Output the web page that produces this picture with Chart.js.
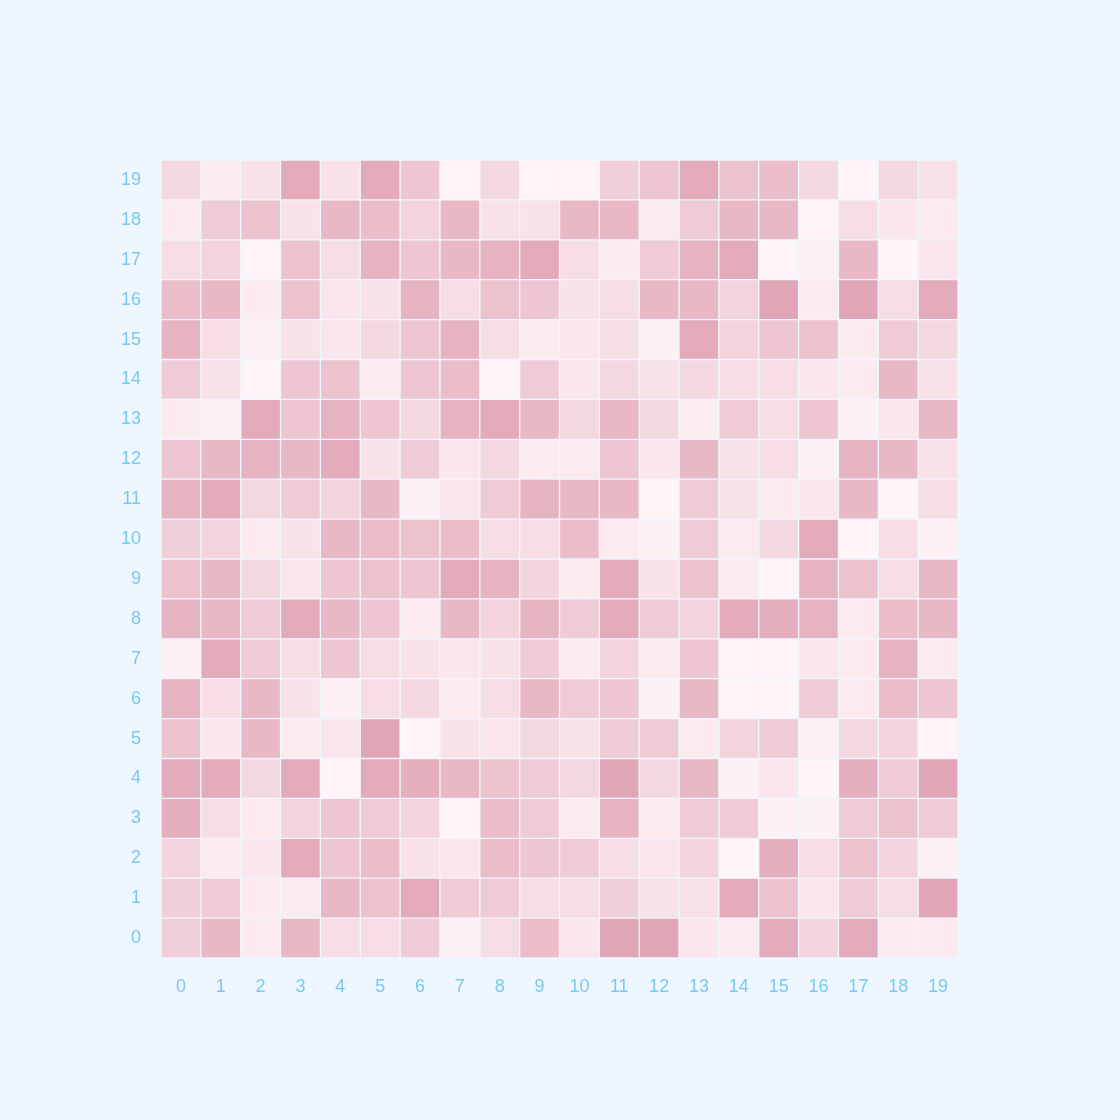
<!DOCTYPE html>
<html>
<head>
<meta charset="utf-8">
<script src="https://cdn.jsdelivr.net/npm/chart.js@4/dist/chart.umd.min.js"></script>
<style>
  html, body { margin: 0; padding: 0; background: #eef6ff; }
  #wrap { width: 1120px; height: 1120px; }
</style>
</head>
<body>
<div id="wrap"><canvas id="heat" width="1120" height="1120"></canvas></div>
<script>
// heatmap - 20x20 grid, one floating-bar dataset per row

const xLabels = ['0','1','2','3','4','5','6','7','8','9','10','11','12','13','14','15','16','17','18','19'];
const yLabels = ['0','1','2','3','4','5','6','7','8','9','10','11','12','13','14','15','16','17','18','19'];

// cell intensity, rows y=0 (bottom) .. y=19 (top)
const row0  = [4, 6.5, 1, 6.5, 2.5, 2.5, 4.5, 0.3, 2.5, 6, 1.5, 8.5, 8.5, 1.5, 1, 8, 3.5, 8, 1, 1];
const row1  = [4, 4.5, 1, 1, 6.5, 5.5, 8, 4.5, 4.5, 2.5, 2.5, 4, 2, 2, 8, 5.5, 1.5, 4.5, 2.5, 8.5];
const row2  = [3.5, 1, 1.5, 8, 5, 6, 2, 1.5, 6, 5, 4.5, 2.5, 1.5, 3.5, 0, 7.5, 2.5, 5.5, 3.5, 0.3];
const row3  = [7.5, 2.5, 1, 3.5, 5, 4.5, 3.5, 0, 6, 4.5, 1, 7, 1, 4.5, 4.5, 0.3, 0.3, 4.5, 5.5, 4.5];
const row4  = [8, 8, 3, 8, 0, 8, 7.5, 6.5, 5.5, 4.5, 3, 8.5, 3, 6.5, 0.3, 1.5, 0, 7.5, 4.5, 8.5];
const row5  = [5.5, 1.5, 6.5, 1, 1.5, 8.5, 0, 2, 1.5, 3, 2, 4.5, 4.5, 1, 3.5, 4.5, 0.3, 3, 3.5, 0];
const row6  = [7, 2.5, 6.5, 2, 0.3, 2.5, 3, 1, 2.5, 6.5, 4.5, 5, 0.3, 6.5, 0, 0, 4.5, 1, 6, 5];
const row7  = [0.3, 8, 4.5, 2.5, 5, 2.5, 2, 1.5, 2, 4.5, 1, 3.5, 1, 5, 0, 0, 1.5, 1, 7, 1];
const row8  = [7, 6.5, 4.5, 8, 6.5, 5, 1, 6.5, 3.5, 7, 4.5, 8, 4.5, 3.5, 8, 7.5, 7, 1, 6, 6.5];
const row9  = [5.5, 6.5, 3, 1.5, 5, 5.5, 5, 8, 7, 3.5, 1, 8, 2, 5.5, 1, 0, 7, 5.5, 2.5, 6.5];
const row10 = [4, 3.5, 1, 2, 6.5, 6, 5.5, 6, 2.5, 2.5, 6, 1, 0.3, 4.5, 1, 3, 8, 0, 2.5, 0.3];
const row11 = [7, 8, 3, 4.5, 3.5, 6.5, 0.3, 1.5, 4.5, 7, 6.5, 6.5, 0, 4.5, 2, 1, 1.5, 6.5, 0, 2.5];
const row12 = [5, 6.5, 7, 6.5, 8, 2, 4.5, 1.5, 3, 1, 1, 5, 1.5, 6.5, 2, 2.5, 0.3, 7, 6.5, 2];
const row13 = [1, 0.3, 8, 5, 7, 5, 3, 7, 8, 6.5, 3, 6.5, 3, 0.8, 4.5, 2.5, 5, 0.3, 1.5, 6.5];
const row14 = [4.5, 2, 0, 5, 5.5, 1, 5, 6, 0, 4.5, 1.5, 3, 2, 3, 2.5, 2.5, 1.5, 1, 6.5, 2];
const row15 = [7, 2.5, 0.3, 2, 1.5, 3, 5, 7, 2.5, 1, 1.5, 2.5, 0.3, 8, 3.5, 5, 5.5, 1, 4.5, 3];
const row16 = [6, 6.5, 1, 5.5, 1.5, 2, 7, 2.5, 5.5, 5, 2, 2.5, 6.5, 6.5, 3.5, 8.5, 1, 8.5, 2.5, 8];
const row17 = [2.5, 3.5, 0, 5.5, 2.5, 7, 5, 6.5, 7, 8, 2.5, 1, 4.5, 7, 8, 0, 0.3, 6.5, 0, 1.5];
const row18 = [1, 4.5, 5.5, 2, 6.5, 6, 3.5, 6.5, 2, 2, 6.5, 6.5, 1, 4.5, 6.5, 6.5, 0, 2.5, 1.5, 1];
const row19 = [3, 1, 2, 8, 2, 8, 5, 0, 3, 0, 0, 4, 5, 8, 5.5, 6, 3, 0, 3, 2];

const rows = [row0, row1, row2, row3, row4, row5, row6, row7, row8, row9,
              row10, row11, row12, row13, row14, row15, row16, row17, row18, row19];

const BG = '#eef6ff';
const LABEL = '#7ac9ee';
const LOW = [255, 244, 247];
const HIGH = [225, 166, 182];
const VMAX = 8.5;

function cellColor(v) {
    const t = Math.max(0, Math.min(1, v / VMAX));
    const c = LOW.map((lo, i) => Math.round(lo + (HIGH[i] - lo) * t));
    return `rgb(${c[0]}, ${c[1]}, ${c[2]})`;
}

const datasets = rows.map((vals, y) => ({
    label: yLabels[y],
    data: xLabels.map(() => [y, y + 1]),
    backgroundColor: vals.map(cellColor),
    borderColor: BG,
    borderWidth: 1,
    borderSkipped: false,
    barPercentage: 1,
    categoryPercentage: 1,
    grouped: false
}));

const tickFont = { family: '"Liberation Sans", Arial, sans-serif', size: 18 };

new Chart(document.getElementById('heat').getContext('2d'), {
    type: 'bar',
    data: { labels: xLabels, datasets: datasets },
    options: {
        responsive: false,
        animation: false,
        layout: { padding: { top: 160, left: 100, right: 162, bottom: 100 } },
        plugins: { legend: { display: false }, tooltip: { enabled: false } },
        scales: {
            x: {
                grid: { display: false },
                border: { display: false },
                ticks: { color: LABEL, font: tickFont, padding: 10, maxRotation: 0 },
                afterFit: (scale) => { scale.height = 62; }
            },
            y: {
                min: 0,
                max: 20,
                grid: { display: false },
                border: { display: false },
                afterBuildTicks: (axis) => {
                    axis.ticks = yLabels.map((l, i) => ({ value: i + 0.5 }));
                },
                ticks: {
                    color: LABEL,
                    font: tickFont,
                    padding: 12,
                    callback: (v) => yLabels[Math.floor(v)]
                },
                afterFit: (scale) => { scale.width = 61; }
            }
        }
    },
    plugins: [{
        id: 'bg',
        beforeDraw: (chart) => {
            const c = chart.ctx;
            c.save();
            c.fillStyle = BG;
            c.fillRect(0, 0, chart.width, chart.height);
            c.restore();
        }
    }]
});
</script>
</body>
</html>
